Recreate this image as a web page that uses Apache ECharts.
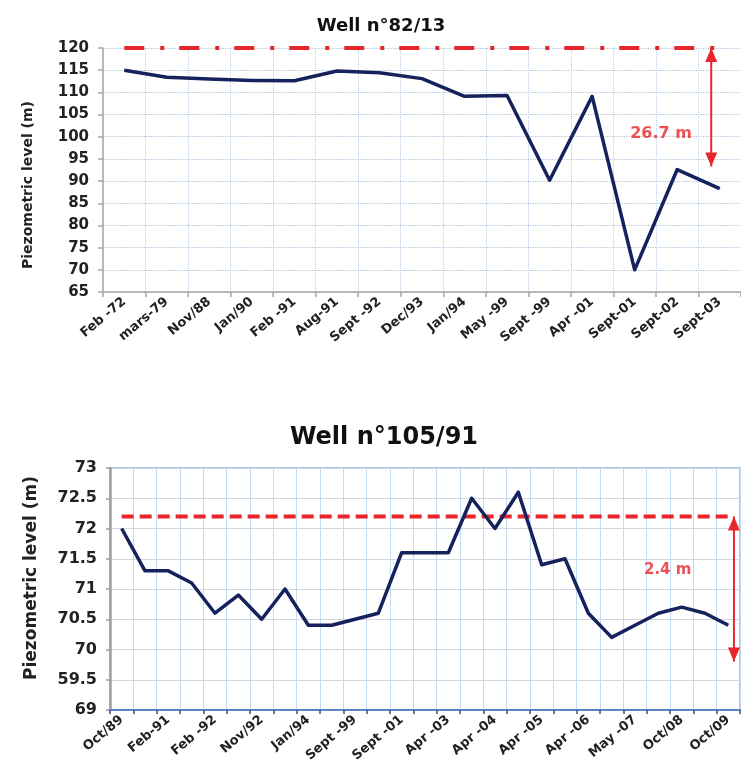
<!DOCTYPE html>
<html>
<head>
<meta charset="utf-8">
<script src="https://cdn.jsdelivr.net/npm/echarts@6/dist/echarts.min.js"></script>
<style>
  html, body { margin: 0; padding: 0; background: #ffffff; }
  #chart { width: 741px; height: 782px; }
</style>
</head>
<body>
<div id="chart"></div>
<script>
// ---- Well n°82/13 ----
const cats82 = ['Feb -72', 'mars-79', 'Nov/88', 'Jan/90', 'Feb -91', 'Aug-91', 'Sept -92', 'Dec/93',
                'Jan/94', 'May -99', 'Sept -99', 'Apr -01', 'Sept-01', 'Sept-02', 'Sept-03'];
const level82 = [115.0, 113.4, 113.0, 112.7, 112.6, 114.8, 114.4, 113.1,
                 109.1, 109.3, 90.2, 109.1, 70.0, 92.6, 88.3];
const ref82 = 120;      // reference level (dash-dot line)
const drop82 = 26.7;    // drawdown shown by the arrow

// ---- Well n°105/91 ----
const cats105 = ['Oct/89', '', 'Feb-91', '', 'Feb -92', '', 'Nov/92', '', 'Jan/94', '', 'Sept -99', '',
                 'Sept -01', '', 'Apr -03', '', 'Apr -04', '', 'Apr -05', '', 'Apr -06', '', 'May -07', '',
                 'Oct/08', '', 'Oct/09'];
const level105 = [72.0, 71.3, 71.3, 71.1, 70.6, 70.9, 70.5, 71.0, 70.4, 70.4, 70.5, 70.6, 71.6, 71.6,
                  71.6, 72.5, 72.0, 72.6, 71.4, 71.5, 70.6, 70.2, 70.4, 70.6, 70.7, 70.6, 70.4];
const ref105 = 72.2;    // reference level (dashed line)
const drop105 = 2.4;    // drawdown shown by the arrow
const yLabels105 = ['69', '59.5', '70', '70.5', '71', '71.5', '72', '72.5', '73'];

const FONT = 'DejaVu Sans';
const NAVY = '#15225c';
const RED = '#e8262b';
const TXT = '#222222';

const chart = echarts.init(document.getElementById('chart'), null, { renderer: 'canvas' });

function arrowSeries(xIdx, yIdx, x, top, bottom) {
  return {
    type: 'line', xAxisIndex: xIdx, yAxisIndex: yIdx, silent: true, z: 5,
    symbol: 'triangle', symbolSize: [12, 14], showSymbol: true,
    lineStyle: { color: RED, width: 2 }, itemStyle: { color: RED },
    data: [
      { value: [x, top], symbolRotate: 0, symbolOffset: [0, 7] },
      { value: [x, bottom], symbolRotate: 180, symbolOffset: [0, -7] }
    ]
  };
}

function noteSeries(xIdx, yIdx, x, y, text, size) {
  return {
    type: 'scatter', xAxisIndex: xIdx, yAxisIndex: yIdx, silent: true, z: 6,
    symbolSize: 0, data: [[x, y]],
    label: { show: true, position: 'inside', formatter: text,
             color: RED, fontFamily: FONT, fontWeight: 'bold', fontSize: size }
  };
}

const option = {
  animation: false,
  backgroundColor: '#ffffff',
  title: [
    { text: 'Well n°82/13', left: 376, top: 12, textAlign: 'center',
      textStyle: { fontFamily: FONT, fontWeight: 'bold', fontSize: 18, color: '#111' } },
    { text: 'Well n°105/91', left: 379, top: 421, textAlign: 'center',
      textStyle: { fontFamily: FONT, fontWeight: 'bold', fontSize: 24, color: '#111' } }
  ],
  grid: [
    { left: 103, top: 48, width: 645, height: 244 },
    { left: 110, top: 468, width: 630, height: 242, show: true,
      borderColor: '#8fb0dc', borderWidth: 1.5, backgroundColor: 'transparent' }
  ],
  xAxis: [
    {
      gridIndex: 0, type: 'category', data: cats82, boundaryGap: true,
      axisLine: { lineStyle: { color: '#a6a6a6', width: 1.5 } },
      axisTick: { show: true, length: 5, lineStyle: { color: '#a6a6a6', width: 1.5 } },
      axisLabel: { interval: 0, rotate: 40, margin: 8, color: TXT,
                   fontFamily: FONT, fontWeight: 'bold', fontSize: 13 },
      splitLine: { show: true, interval: 0, lineStyle: { color: '#b7cfee', type: 'dotted', width: 1 } }
    },
    {
      gridIndex: 1, type: 'category', data: cats105, boundaryGap: true,
      axisLine: { lineStyle: { color: '#5b86c5', width: 2 } },
      axisTick: { show: true, interval: 0, length: 4, lineStyle: { color: '#2f4f86', width: 1.5 } },
      axisLabel: { interval: 0, rotate: 40, margin: 8, color: TXT,
                   fontFamily: FONT, fontWeight: 'bold', fontSize: 13 },
      splitLine: { show: true, interval: 0, lineStyle: { color: '#c6daf2', width: 1 } }
    },
    // band-unit axes used to place the annotations
    { gridIndex: 0, type: 'value', min: 0, max: cats82.length, show: false },
    { gridIndex: 1, type: 'value', min: 0, max: cats105.length, show: false }
  ],
  yAxis: [
    {
      gridIndex: 0, type: 'value', min: 65, max: 120, interval: 5,
      name: 'Piezometric level (m)', nameLocation: 'middle', nameGap: 68,
      nameTextStyle: { fontFamily: FONT, fontWeight: 'bold', fontSize: 14, color: TXT,
                       padding: [0, 30, 0, 0] },
      axisLine: { show: true, lineStyle: { color: '#a6a6a6', width: 1.5 } },
      axisTick: { show: true, length: 5, lineStyle: { color: '#a6a6a6', width: 1.5 } },
      axisLabel: { margin: 14, color: TXT, fontFamily: FONT, fontWeight: 'bold', fontSize: 15 },
      splitLine: { show: true, lineStyle: { color: '#b3c2d8', type: 'dotted', width: 1.2 } }
    },
    {
      gridIndex: 1, type: 'value', min: 69, max: 73, interval: 0.5,
      name: 'Piezometric level (m)', nameLocation: 'middle', nameGap: 70,
      nameTextStyle: { fontFamily: FONT, fontWeight: 'bold', fontSize: 17, color: TXT,
                       padding: [0, 0, 0, 22] },
      axisLine: { show: true, lineStyle: { color: '#a0a0a0', width: 2.5 } },
      axisTick: { show: true, length: 4, lineStyle: { color: '#a0a0a0', width: 1.5 } },
      axisLabel: { margin: 13, color: TXT, fontFamily: FONT, fontWeight: 'bold', fontSize: 16,
                   formatter: v => yLabels105[Math.round((v - 69) / 0.5)] },
      splitLine: { show: true, lineStyle: { color: '#d2d8e1', width: 1 } }
    }
  ],
  series: [
    // Well n°82/13
    { type: 'line', xAxisIndex: 0, yAxisIndex: 0, data: cats82.map(() => ref82),
      symbol: 'none', silent: true, z: 3,
      lineStyle: { color: RED, width: 4, type: [20, 16, 4, 15] } },
    { type: 'line', xAxisIndex: 0, yAxisIndex: 0, data: level82,
      symbol: 'none', silent: true, z: 4,
      lineStyle: { color: NAVY, width: 3.5, join: 'round' } },
    arrowSeries(2, 0, 14.3, ref82, ref82 - drop82),
    noteSeries(2, 0, 13.12, 100.6, drop82 + ' m', 16),

    // Well n°105/91
    { type: 'line', xAxisIndex: 1, yAxisIndex: 1, data: cats105.map(() => ref105),
      symbol: 'none', silent: true, z: 3,
      lineStyle: { color: RED, width: 4, type: [12, 6] } },
    { type: 'line', xAxisIndex: 1, yAxisIndex: 1, data: level105,
      symbol: 'none', silent: true, z: 4,
      lineStyle: { color: NAVY, width: 3.5, join: 'round' } },
    arrowSeries(3, 1, 26.74, ref105, ref105 - drop105),
    noteSeries(3, 1, 23.9, 71.32, drop105 + ' m', 15)
  ]
};

chart.setOption(option);
</script>
</body>
</html>
